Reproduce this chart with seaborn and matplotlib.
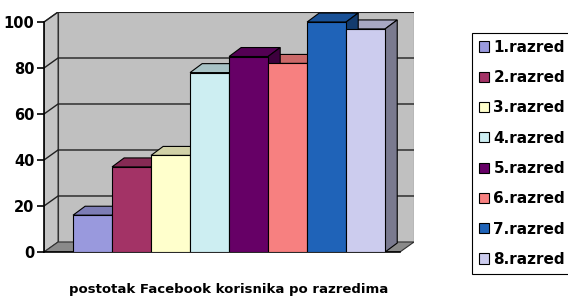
import numpy as np
import pandas as pd
import seaborn as sns
import matplotlib.pyplot as plt
from matplotlib.patches import Polygon
from matplotlib.colors import to_rgb

# Podaci
razredi = ['1.razred', '2.razred', '3.razred', '4.razred',
           '5.razred', '6.razred', '7.razred', '8.razred']
postotak = [16, 37, 42, 78, 85, 82, 100, 97]
boje = ['#9999dd', '#a33366', '#ffffcc', '#cdeef2',
        '#660066', '#f78080', '#1f63b8', '#ccccee']
y_oznake = [0, 20, 40, 60, 80, 100]

df = pd.DataFrame({'razred': razredi, 'postotak': postotak})

sns.set_theme(style='white')
plt.rcParams['font.family'] = ['DejaVu Sans']
plt.rcParams['text.color'] = 'black'

fig = plt.figure(figsize=(5.68, 2.96), dpi=100)
ax = fig.add_axes([44 / 568, 44 / 296, (414 - 44) / 568, (252 - 12) / 296])
ax.set_facecolor('none')

sns.barplot(data=df, x='razred', y='postotak', hue='razred', palette=boje,
            width=1, edgecolor='black', linewidth=0.8, legend=False,
            saturation=1, ax=ax, zorder=3)
stupci = list(ax.patches)

# granice i dubina (3D izgled)
x0, x_kraj = -1.244, 8.24
x1 = 7.88
ax.set_xlim(x0, x_kraj)
ax.set_ylim(0, 104.35)
DX, DY = 0.36, 4.35      # dubina zidova
BDX, BDY = 0.31, 3.9     # dubina stupaca

# zidovi i pod
ax.add_patch(Polygon([(x0 + DX, DY), (x1 + DX, DY), (x1 + DX, 100 + DY), (x0 + DX, 100 + DY)],
                     closed=True, fc='#c0c0c0', ec='#303030', lw=0.8, zorder=0))
ax.add_patch(Polygon([(x0, 0), (x0 + DX, DY), (x0 + DX, 100 + DY), (x0, 100)],
                     closed=True, fc='#c4c4c4', ec='#303030', lw=0.8, zorder=0.2))
ax.add_patch(Polygon([(x0, 0), (x1, 0), (x1 + DX, DY), (x0 + DX, DY)],
                     closed=True, fc='#8a8a8a', ec='#303030', lw=0.8, zorder=0.4))
for t in y_oznake[1:]:
    ax.plot([x0, x0 + DX, x1 + DX], [t, t + DY, t + DY], color='#202020', lw=1, zorder=0.5)

def zatamni(c, f):
    return tuple(np.array(to_rgb(c)) * f)

for b in stupci:
    c = b.get_facecolor()
    lx, w, h = b.get_x(), b.get_width(), b.get_height()
    rx = lx + w
    vrh = Polygon([(lx, h), (rx, h), (rx + BDX, h + BDY), (lx + BDX, h + BDY)],
                  closed=True, fc=zatamni(c, 0.82), ec='black', lw=0.8, zorder=2)
    bok = Polygon([(rx, 0), (rx + BDX, BDY), (rx + BDX, h + BDY), (rx, h)],
                  closed=True, fc=zatamni(c, 0.6), ec='black', lw=0.8, zorder=2.5)
    ax.add_patch(vrh)
    ax.add_patch(bok)

# osi
for s in ['top', 'right']:
    ax.spines[s].set_visible(False)
ax.spines['left'].set_bounds(0, 100)
ax.spines['bottom'].set_bounds(x0, x1)
for s in ['left', 'bottom']:
    ax.spines[s].set_color('black')
    ax.spines[s].set_linewidth(1.2)
ax.set_yticks(y_oznake)
ax.set_xticks([])
ax.tick_params(axis='y', left=True, length=5, width=1.2, color='black', pad=2)
for lbl in ax.get_yticklabels():
    lbl.set_fontweight('bold')
    lbl.set_fontsize(10.5)
    lbl.set_color('black')
ax.set_ylabel('')
ax.set_xlabel('postotak Facebook korisnika po razredima', fontsize=9.5,
              fontweight='bold', color='black', labelpad=22)

leg = ax.legend(handles=stupci, labels=razredi, loc='upper left',
                bbox_to_anchor=(472 / 568, 1 - 33 / 296), bbox_transform=fig.transFigure,
                borderaxespad=0, frameon=True, fancybox=False, framealpha=1,
                edgecolor='black', prop={'weight': 'bold', 'size': 11},
                handlelength=0.65, handleheight=0.65, handletextpad=0.3,
                labelspacing=1.0, borderpad=0.45, labelcolor='black')
leg.get_frame().set_linewidth(0.8)
for h in leg.legend_handles:
    h.set_edgecolor('black')
    h.set_linewidth(0.8)

fig.savefig('out.png', dpi=100)
